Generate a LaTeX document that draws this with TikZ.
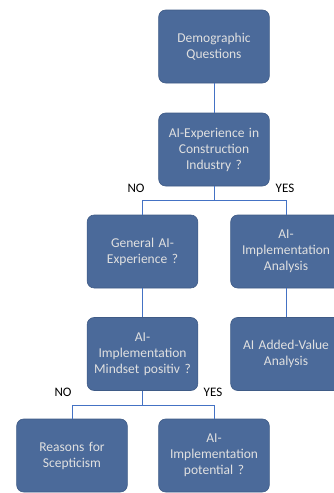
\documentclass[tikz,border=0pt]{standalone}
\usepackage{fontspec}
\setmainfont{Carlito}
\usetikzlibrary{positioning}

\definecolor{boxfill}{HTML}{4B6A9A}
\definecolor{boxline}{HTML}{3F5B86}
\definecolor{linkblue}{HTML}{4472C4}

\tikzset{
  qbox/.style={draw=boxline, fill=boxfill, rounded corners=7pt, minimum width=110pt,
    minimum height=73pt, align=center, text width=104pt, text=white!88!black,
    font=\fontsize{13.5}{16}\selectfont, line width=0.6pt},
  link/.style={draw=linkblue, line width=0.8pt},
  answer/.style={font=\fontsize{13}{15}\selectfont, text=black}
}

\begin{document}
\begin{tikzpicture}[x=1pt, y=-1pt]
\useasboundingbox (0,0) rectangle (334,493);

\node[qbox] (demo) at (214,46.5) {Demographic\\Questions};

\node[qbox] (aiexp) at (214,149.5) {AI-Experience in\\Construction\\Industry ?};

\node[qbox] (general) at (142.5,251.5) {General AI-\\Experience ?};

\node[qbox] (implana) at (286,251.5) {AI-\\Implementation\\Analysis};

\node[qbox] (mindset) at (142.5,354) {AI-\\Implementation\\Mindset positiv ?};

\node[qbox] (addval) at (286,354) {AI Added-Value\\Analysis};

\node[qbox] (reasons) at (72,455.5) {Reasons for\\Scepticism};

\node[qbox] (potential) at (214,455.5) {AI-\\Implementation\\potential ?};

\node[answer] (no1) at (136,188) {NO};
\node[answer] (yes1) at (285,188) {YES};
\node[answer] (no2) at (63,392) {NO};
\node[answer] (yes2) at (213,392) {YES};

\draw[link] (demo) -- (aiexp);
\draw[link] (aiexp.south) -- +(0,14.5) -| (general.north);
\draw[link] (aiexp.south) -- +(0,14.5) -| (implana.north);
\draw[link] (general) -- (mindset);
\draw[link] (implana) -- (addval);
\draw[link] (mindset.south) -- +(0,14.5) -| (reasons.north);
\draw[link] (mindset.south) -- +(0,14.5) -| (potential.north);

\end{tikzpicture}
\end{document}
